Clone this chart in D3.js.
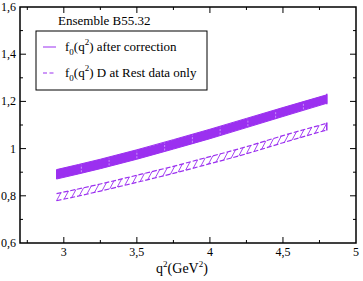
<!DOCTYPE html>
<html>
<head>
<meta charset="utf-8">
<script src="https://cdn.jsdelivr.net/npm/d3@7"></script>
<style>
	body { margin: 0; background: #fff; }
	svg text { font-family: 'Liberation Serif', 'DejaVu Serif', serif; }
</style>
</head>
<body>
<svg id="chart" width="363" height="281"></svg>
<script>
'use strict'

// band sample points
const q2 = [2.95, 3.25, 3.5, 3.75, 4, 4.25, 4.5, 4.8]
const corrLow = [0.871, 0.915, 0.955, 0.998, 1.042, 1.089, 1.136, 1.192]
const corrHigh = [0.911, 0.955, 0.995, 1.038, 1.082, 1.128, 1.174, 1.228]
const restLow = [0.779, 0.820, 0.857, 0.895, 0.936, 0.978, 1.025, 1.079]
const restHigh = [0.809, 0.850, 0.887, 0.925, 0.966, 1.008, 1.055, 1.107]

const xTicks = [3, 3.5, 4, 4.5, 5]
const yTicks = [0.6, 0.8, 1, 1.2, 1.4, 1.6]
const legendLabels = ['after correction', 'D at Rest data only']
const title = 'Ensemble B55.32'

const purple = '#9b30f0'
const margin = {left: 20, top: 7, right: 7, bottom: 38}
const width = 363, height = 281

const svg = d3.select('#chart')
const x = d3.scaleLinear().domain([2.7, 5]).range([margin.left, width - margin.right])
const y = d3.scaleLinear().domain([0.6, 1.6]).range([height - margin.bottom, margin.top])

const fmt = (d) => String(d).replace('.', ',')

const corr = q2.map((q, i) => ({q, lo: corrLow[i], hi: corrHigh[i]}))
const rest = q2.map((q, i) => ({q, lo: restLow[i], hi: restHigh[i]}))

const area = d3.area()
	.x(d => x(d.q))
	.y0(d => y(d.lo))
	.y1(d => y(d.hi))
	.curve(d3.curveMonotoneX)

// solid band: filled, with faint vertical strokes
svg.append('path')
	.attr('d', area(corr))
	.attr('fill', purple)
	.attr('stroke', purple)
	.attr('stroke-width', 1)

const loC = d3.scaleLinear().domain(q2).range(corrLow)
const hiC = d3.scaleLinear().domain(q2).range(corrHigh)
const hatchQ = d3.range(3.12, 4.8, 0.19)
svg.append('g')
	.selectAll('line')
	.data(hatchQ)
	.join('line')
	.attr('x1', d => x(d)).attr('x2', d => x(d))
	.attr('y1', d => y(loC(d)) - 1).attr('y2', d => y(hiC(d)) + 1)
	.attr('stroke', '#dcb8ff')
	.attr('stroke-width', 0.7)
	.attr('stroke-dasharray', '2,1.5')
svg.append('line')
	.attr('x1', x(4.8)).attr('x2', x(4.8))
	.attr('y1', y(1.188)).attr('y2', y(1.232))
	.attr('stroke', purple).attr('stroke-width', 1.5)

// dashed band: dashed edges with slanted hatching
const edge = (key) => d3.line()
	.x(d => x(d.q))
	.y(d => y(d[key]))
	.curve(d3.curveMonotoneX)
const rg = svg.append('g')
	.attr('fill', 'none')
	.attr('stroke', purple)
	.attr('stroke-width', 1.2)
rg.append('path').attr('d', edge('lo')(rest)).attr('stroke-dasharray', '5,2')
rg.append('path').attr('d', edge('hi')(rest)).attr('stroke-dasharray', '5,2')

const loR = d3.scaleLinear().domain(q2).range(restLow)
const hiR = d3.scaleLinear().domain(q2).range(restHigh)
const slantQ = d3.range(2.95, 4.78, 0.052)
rg.selectAll('line')
	.data(slantQ)
	.join('line')
	.attr('x1', d => x(d)).attr('y1', d => y(loR(d)))
	.attr('x2', d => x(d + 0.03)).attr('y2', d => y(hiR(d + 0.03)))
	.attr('stroke-width', 0.9)
rg.append('line')
	.attr('x1', x(4.8)).attr('x2', x(4.8))
	.attr('y1', y(1.077)).attr('y2', y(1.111))
	.attr('stroke-width', 1.5)

// frame and ticks on all sides
const axisG = svg.append('g').attr('stroke', '#000')
axisG.append('rect')
	.attr('x', margin.left).attr('y', margin.top)
	.attr('width', width - margin.left - margin.right)
	.attr('height', height - margin.top - margin.bottom)
	.attr('fill', 'none')
	.attr('stroke-width', 1.5)

const xMinor = d3.range(2.75, 5, 0.25).filter(d => Math.abs(d * 2 - Math.round(d * 2)) > 0.01)
const yMinor = d3.range(0.7, 1.6, 0.2)

const x0 = margin.left, x1 = width - margin.right
const y0 = height - margin.bottom, y1 = margin.top
const tick = (arr, len, vertical) => {
	arr.forEach(v => {
		if (vertical) {
			axisG.append('line').attr('x1', x(v)).attr('x2', x(v)).attr('y1', y0).attr('y2', y0 - len)
			axisG.append('line').attr('x1', x(v)).attr('x2', x(v)).attr('y1', y1).attr('y2', y1 + len)
		} else {
			axisG.append('line').attr('y1', y(v)).attr('y2', y(v)).attr('x1', x0).attr('x2', x0 + len)
			axisG.append('line').attr('y1', y(v)).attr('y2', y(v)).attr('x1', x1).attr('x2', x1 - len)
		}
	})
}
tick(xTicks.slice(0, -1), 6, true)
tick(xMinor, 3, true)
tick(yTicks.slice(1, -1), 6, false)
tick(yMinor, 3, false)
axisG.selectAll('line').attr('stroke-width', 1)

svg.append('g')
	.selectAll('text')
	.data(xTicks)
	.join('text')
	.attr('x', d => x(d))
	.attr('y', 256)
	.attr('text-anchor', 'middle')
	.attr('font-size', 12)
	.text(fmt)

svg.append('g')
	.selectAll('text')
	.data(yTicks)
	.join('text')
	.attr('x', 16)
	.attr('y', d => y(d) + 4)
	.attr('text-anchor', 'end')
	.attr('font-size', 12)
	.text(fmt)

// axis title
const xt = svg.append('text')
	.attr('x', 182)
	.attr('y', 273)
	.attr('text-anchor', 'middle')
	.attr('font-size', 14)
xt.append('tspan').text('q')
xt.append('tspan').attr('font-size', 9).attr('dy', -6).text('2')
xt.append('tspan').attr('dy', 6).text('(GeV')
xt.append('tspan').attr('font-size', 9).attr('dy', -6).text('2')
xt.append('tspan').attr('dy', 6).text(')')

// title
svg.append('text')
	.attr('x', 58)
	.attr('y', 25)
	.attr('font-size', 13)
	.text(title)

// legend
svg.append('rect')
	.attr('x', 36).attr('y', 31)
	.attr('width', 171).attr('height', 59)
	.attr('fill', '#fff')
	.attr('stroke', '#000')
	.attr('stroke-width', 1)

legendLabels.forEach((lab, i) => {
	const ly = 47 + i * 26
	svg.append('line')
		.attr('x1', 43).attr('x2', 56)
		.attr('y1', ly).attr('y2', ly)
		.attr('stroke', purple)
		.attr('stroke-width', 1)
		.attr('stroke-dasharray', i ? '4,2.5' : null)
	const t = svg.append('text')
		.attr('x', 65)
		.attr('y', ly + 4)
		.attr('font-size', 13)
	t.append('tspan').text('f')
	t.append('tspan').attr('font-size', 9).attr('dy', 4).text('0')
	t.append('tspan').attr('dy', -4).text('(q')
	t.append('tspan').attr('font-size', 9).attr('dy', -6).text('2')
	t.append('tspan').attr('dy', 6).text(') ' + lab)
})
</script>
</body>
</html>
